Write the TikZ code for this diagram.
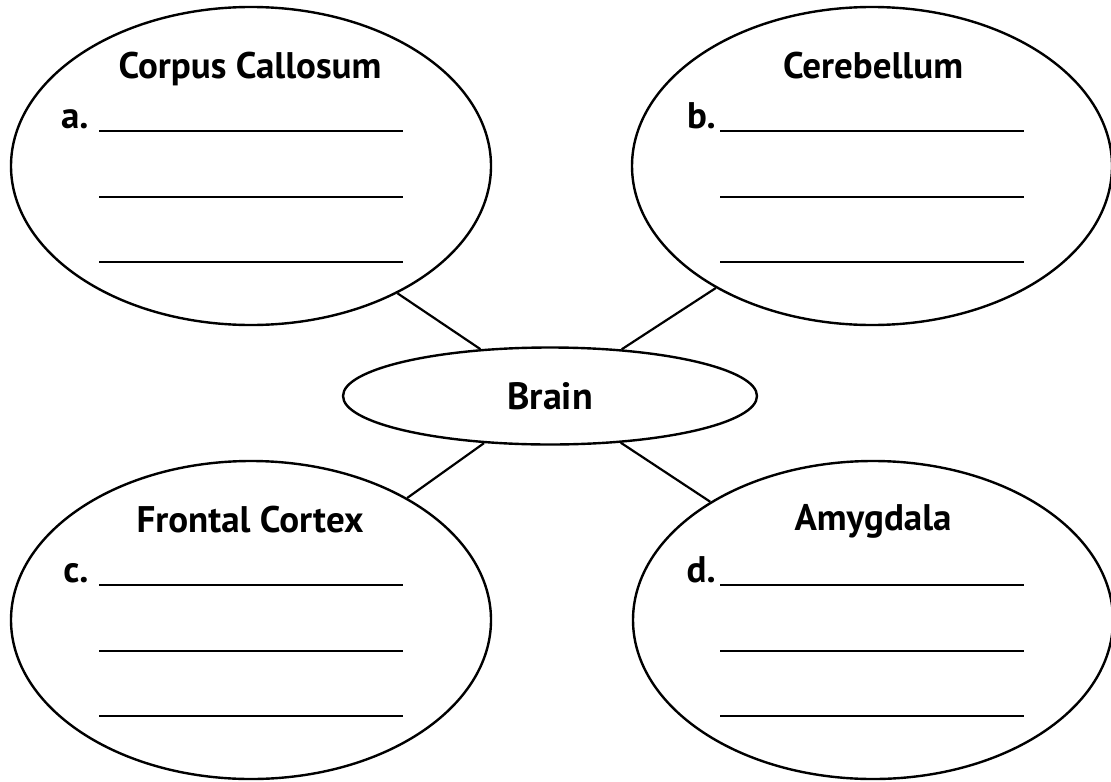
\documentclass[tikz,border=0pt]{standalone}
\usepackage{fontspec}
\setmainfont{PT Sans}
\usetikzlibrary{shapes.geometric, positioning}

\begin{document}
\begin{tikzpicture}[x=0.5pt, y=-0.5pt,
    bubble/.style={draw, ellipse, line width=1.2pt, minimum width=240pt, minimum height=159pt, inner sep=0pt},
    hub/.style={draw, ellipse, line width=1.2pt, minimum width=207pt, minimum height=48.5pt, inner sep=0pt, font=\fontsize{19}{22}\selectfont\bfseries},
    title/.style={anchor=base, font=\fontsize{18.5}{22}\selectfont\bfseries, inner sep=0pt},
    letter/.style={anchor=base east, font=\fontsize{18.5}{22}\selectfont\bfseries, inner sep=0pt},
    blank/.style={line width=1pt},
    link/.style={line width=1.1pt}]
    \useasboundingbox (0,0) rectangle (1111,781);

    \node[hub] (brain) at (550,396) {Brain};

    \node[bubble] (cc) at (251,166) {};
    \node[bubble] (cb) at (872,166) {};
    \node[bubble] (fc) at (251,620) {};
    \node[bubble] (am) at (873,620) {};

    \node[title] (ccTitle) at (250,78) {Corpus Callosum};
    \node[title] (cbTitle) at (873,78) {Cerebellum};
    \node[title] (fcTitle) at (250,532) {Frontal Cortex};
    \node[title] (amTitle) at (873,530) {Amygdala};

    \node[letter] (ccA) at (89,128) {a.};
    \node[letter] (cbB) at (716,128) {b.};
    \node[letter] (fcC) at (89,582) {c.};
    \node[letter] (amD) at (716,582) {d.};

    % blanks to fill in
    \foreach \y in {131,197,262} {
        \draw[blank] (99,\y) -- (403,\y);
        \draw[blank] (720,\y) -- (1024,\y);
    }
    \foreach \y in {585,651,716} {
        \draw[blank] (99,\y) -- (403,\y);
        \draw[blank] (720,\y) -- (1024,\y);
    }

    \draw[link] (brain) -- (cc.-41.4);
    \draw[link] (brain) -- (cb.218.4);
    \draw[link] (brain) -- (fc.38);
    \draw[link] (brain) -- (am.144.3);
\end{tikzpicture}
\end{document}
